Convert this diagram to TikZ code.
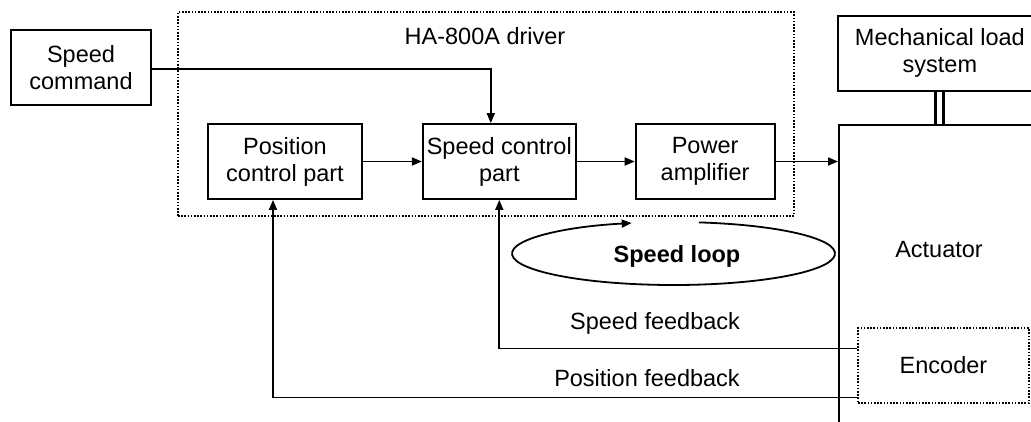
\documentclass[tikz,border=0pt]{standalone}
\usepackage{fontspec}
\setmainfont{Liberation Sans}
\usetikzlibrary{positioning, arrows.meta}

\begin{document}
\begin{tikzpicture}[
        x=1pt, y=1pt,
        font=\fontsize{23.5}{27}\selectfont,
        line width=1.8pt,
        bloque/.style={
            rectangle,
            draw,
            align=center,
            inner sep=2pt,
            minimum height=75pt
        },
        punteado/.style={
            rectangle,
            draw,
            align=center,
            dash pattern=on 1.6pt off 1.6pt
        },
        flecha/.style={
            -{Triangle[length=10pt,width=8pt]}
        }
    ]
    \useasboundingbox (0,0) rectangle (1031,-421);

    % driver frame
    \node[punteado, minimum width=616pt, minimum height=204pt, anchor=north west] (driver) at (177,-11) {};
    \node (drvlbl) at (485,-36) {HA-800A driver};

    \node[bloque, minimum width=140pt] (cmd) at (81,-67.5) {Speed\\command};
    \node[bloque, minimum width=154pt] (pos) at (285,-161.5) {Position\\control part};
    \node[bloque, minimum width=153pt, right=59pt of pos] (spd) {Speed control\\part};
    \node[bloque, minimum width=139pt, right=58pt of spd] (amp) {Power\\amplifier};

    % actuator side
    \node[bloque, minimum width=204pt, anchor=north west] (load) at (837,-15) {Mechanical load\\system};
    \node[draw, minimum width=215pt, minimum height=320pt, anchor=north west] (act) at (838,-124) {};
    \node (actlbl) at (939,-250) {Actuator};
    \node[punteado, minimum width=171pt, minimum height=75pt, fill=white] (enc) at (943.5,-365.5) {Encoder};

    \draw[line width=3pt] ([xshift=-4pt]load.south) -- ([xshift=-4pt]load.south |- act.north);
    \draw[line width=3pt] ([xshift=4pt]load.south) -- ([xshift=4pt]load.south |- act.north);

    \draw[flecha] ([yshift=-1.5pt]cmd.east) -| ([xshift=-8.5pt]spd.north);
    \draw[flecha] (pos) -- (spd);
    \draw[flecha] (spd) -- (amp);
    \draw[flecha] (amp.east) -- (amp.east -| act.west);

    % feedback paths
    \draw[flecha] ([yshift=17pt]enc.west) -| (spd.south);
    \draw[flecha] ([yshift=-32pt]enc.west) -| ([xshift=-12pt]pos.south);
    \node (spdfb) at (655,-323) {Speed feedback};
    \node (posfb) at (647,-378) {Position feedback};

    % speed loop
    \coordinate (loopc) at (673.5,-253.5);
    \draw[flecha] (loopc) ++(81:161.5pt and 31.5pt) arc[start angle=81, end angle=-255, x radius=161.5pt, y radius=31.5pt];
    \node[font=\fontsize{23.5}{27}\selectfont\bfseries, anchor=base] (loop) at (677,-262) {Speed loop};

\end{tikzpicture}
\end{document}
